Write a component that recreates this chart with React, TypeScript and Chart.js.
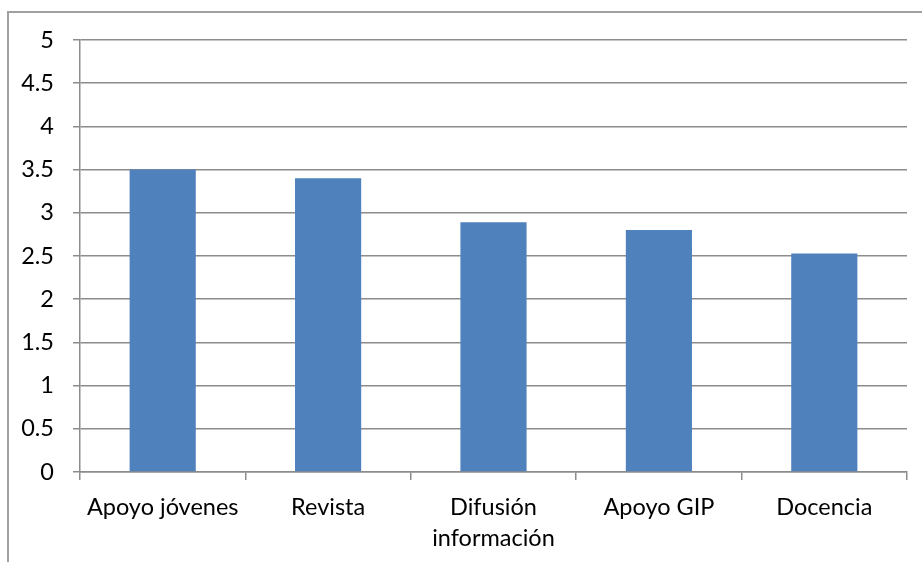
import React, { useEffect, useRef } from "react";
import { Chart, registerables } from "chart.js";

Chart.register(...registerables);

const categories: (string | string[])[] = [
  "Apoyo jóvenes",
  "Revista",
  ["Difusión", "información"],
  "Apoyo GIP",
  "Docencia",
];
const values = [3.5, 3.4, 2.89, 2.8, 2.53];
const yMin = 0;
const yMax = 5;
const yStep = 0.5;

export default function App() {
  const ref = useRef<HTMLCanvasElement | null>(null);

  useEffect(() => {
    if (!ref.current) return;
    const font = { family: "Lato", size: 23.5, lineHeight: 1.32 };
    const chart = new Chart(ref.current, {
      type: "bar",
      data: {
        labels: categories,
        datasets: [
          {
            data: values,
            backgroundColor: "#4f81bd",
            borderWidth: 0,
            categoryPercentage: 1,
            barPercentage: 0.4,
          },
        ],
      },
      options: {
        animation: false,
        responsive: false,
        maintainAspectRatio: false,
        layout: { padding: { left: 0, top: 40, right: 15, bottom: 0 } },
        plugins: {
          legend: { display: false },
          tooltip: { enabled: false },
          title: { display: false },
        },
        scales: {
          x: {
            grid: {
              offset: true,
              drawOnChartArea: false,
              color: "#8c8c8c",
              tickLength: 8,
              lineWidth: 1.5,
            },
            border: { color: "#8c8c8c", width: 1.5 },
            ticks: {
              color: "#000000",
              font,
              maxRotation: 0,
              minRotation: 0,
              autoSkip: false,
              padding: 12,
            },
            afterFit: (scale: any) => {
              scale.height = 90;
            },
          },
          y: {
            min: yMin,
            max: yMax,
            ticks: {
              stepSize: yStep,
              color: "#000000",
              font: { family: "Lato", size: 23.5 },
              padding: 19,
              callback: (v: any) => String(Number(v)),
            },
            grid: {
              color: "#8c8c8c",
              tickLength: 7,
              lineWidth: 1.5,
            },
            border: { color: "#8c8c8c", width: 1.5 },
            afterFit: (scale: any) => {
              scale.width = 80;
            },
          },
        },
      },
    });
    return () => chart.destroy();
  }, []);

  return (
    <div
      style={{
        position: "fixed",
        left: 0,
        top: 0,
        width: 922,
        height: 562,
        overflow: "hidden",
        background: "#ffffff",
      }}
    >
      <div
        style={{
          position: "absolute",
          left: 7,
          top: 11,
          width: 930,
          height: 570,
          border: "2px solid #a0a0a0",
          boxSizing: "border-box",
        }}
      />
      <canvas
        ref={ref}
        width={922}
        height={562}
        style={{ position: "absolute", left: 0, top: 0, width: 922, height: 562 }}
      />
    </div>
  );
}
